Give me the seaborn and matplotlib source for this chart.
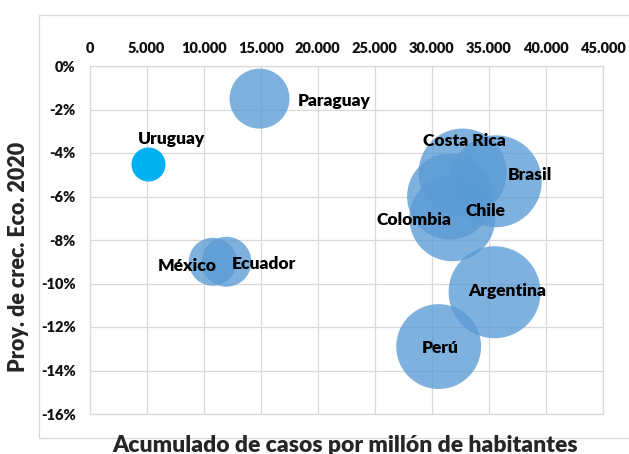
import matplotlib
matplotlib.use("Agg")
import matplotlib.pyplot as plt
import matplotlib.patches as mpatches
from matplotlib.ticker import FuncFormatter
import seaborn as sns
import pandas as pd

# ---- data ----
paises = ["Uruguay", "Paraguay", "México", "Ecuador", "Costa Rica",
          "Brasil", "Chile", "Colombia", "Argentina", "Perú"]
casos_por_millon = [5100, 14900, 10800, 12000, 32700,
                    35600, 31600, 31800, 35500, 30600]
crec_eco_2020 = [-4.5, -1.5, -9.0, -9.0, -4.9,
                 -5.3, -6.0, -7.0, -10.4, -12.9]
tamano_burbuja = [289, 900, 576, 625, 1936,
                  2116, 1849, 1849, 2116, 1800]

x_ticks = [0, 5000, 10000, 15000, 20000, 25000, 30000, 35000, 40000, 45000]
y_ticks = [0, -2, -4, -6, -8, -10, -12, -14, -16]

df = pd.DataFrame({"pais": paises, "x": casos_por_millon,
                   "y": crec_eco_2020, "s": tamano_burbuja})

# ---- style ----
sns.set_theme(style="white")
plt.rcParams["font.family"] = ["Lato", "DejaVu Sans"]

W, H = 629, 454
fig = plt.figure(figsize=(W / 100, H / 100), dpi=100)
ax = fig.add_axes([89.5 / W, 1 - 414 / H, (603 - 89.5) / W, (414 - 66) / H])

grid_c = "#D9D9D9"
size_norm = (0, 2500)
sizes = (0, 2500 * (2 * 0.72) ** 2)

otros = df[df["pais"] != "Uruguay"]
uru = df[df["pais"] == "Uruguay"]
sns.scatterplot(data=otros, x="x", y="y", size="s", sizes=sizes, size_norm=size_norm,
                color="#5B9BD5", alpha=0.78, linewidth=0, legend=False, ax=ax, zorder=3)
sns.scatterplot(data=uru, x="x", y="y", size="s", sizes=sizes, size_norm=size_norm,
                color="#00B0F0", alpha=1.0, linewidth=0, legend=False, ax=ax, zorder=3)

# label offsets in pixels (dx right, dy down) relative to bubble centre
offsets = {
    "Uruguay": (24, -25, "center"),
    "Paraguay": (38, 2, "left"),
    "México": (-25, 4, "center"),
    "Ecuador": (37, 2, "center"),
    "Costa Rica": (2, -32, "center"),
    "Brasil": (34, -6, "center"),
    "Chile": (35, 14, "center"),
    "Colombia": (-38, 2, "center"),
    "Argentina": (13, -1, "center"),
    "Perú": (2, 1, "center"),
}
for p, xv, yv in zip(paises, casos_por_millon, crec_eco_2020):
    dx, dy, ha = offsets[p]
    ax.annotate(p, (xv, yv), xytext=(dx * 0.72, -dy * 0.72), textcoords="offset points",
                ha=ha, va="center", fontsize=12.5, fontweight="heavy", color="black",
                zorder=5)

ax.set_xlim(0, 45000)
ax.set_ylim(-16, 0)
ax.set_xticks(x_ticks)
ax.set_yticks(y_ticks)
ax.xaxis.tick_top()
ax.xaxis.set_major_formatter(FuncFormatter(lambda v, _: f"{int(round(v)):,}".replace(",", ".")))
ax.yaxis.set_major_formatter(FuncFormatter(lambda v, _: f"{int(round(v))}%"))
ax.tick_params(axis="x", length=0, pad=8, labelsize=10.5)
ax.tick_params(axis="y", length=0, pad=10, labelsize=10.5)
for lab in ax.get_xticklabels() + ax.get_yticklabels():
    lab.set_fontweight("heavy")
    lab.set_color("#111111")
ax.grid(True, color=grid_c, linewidth=0.9)
ax.set_axisbelow(True)
for sp in ax.spines.values():
    sp.set_color(grid_c)
    sp.set_linewidth(0.9)
ax.set_xlabel("")
ax.set_ylabel("")

fig.text(345 / W, 1 - 445 / H, "Acumulado de casos por millón de habitantes",
         ha="center", va="center", fontsize=16.5, fontweight="heavy")
fig.text(19 / W, 1 - 257 / H, "Proy. de crec. Eco. 2020", rotation=90,
         ha="center", va="center", fontsize=15.5, fontweight="heavy")

frame = mpatches.Rectangle((39.5 / W, 1 - 438 / H), 1.2, (438 - 15) / H,
                           transform=fig.transFigure, fill=False,
                           edgecolor=grid_c, linewidth=0.9, clip_on=False)
fig.patches.append(frame)

fig.savefig("out.png", dpi=100)
